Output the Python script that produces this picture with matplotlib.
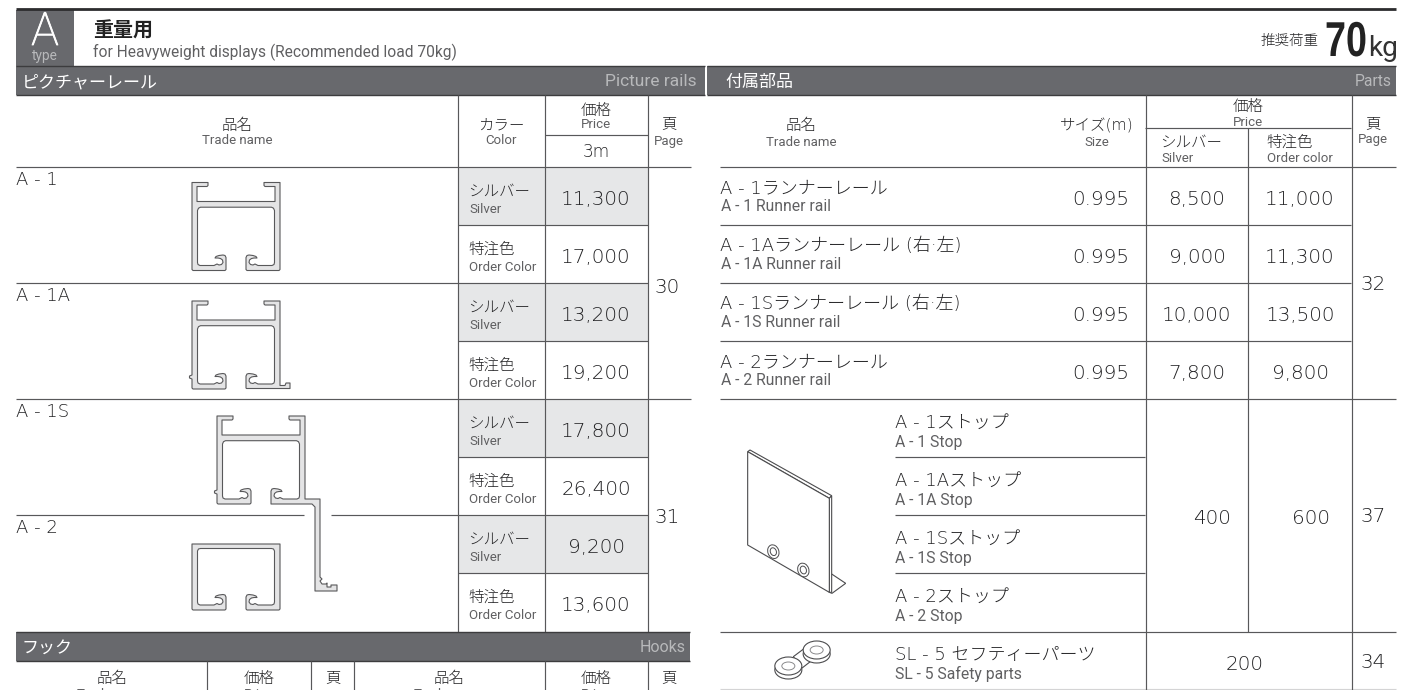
"""
Heavyweight picture rail price table (A type)
"""

# Imports
import matplotlib
matplotlib.use("Agg")
import matplotlib.pyplot as plt
from matplotlib.patches import Polygon, Rectangle, Ellipse
from matplotlib.patheffects import AbstractPathEffect, withStroke
from matplotlib.transforms import Affine2D

# data - picture rails
RAIL_NAMES = ['A - 1', 'A - 1A', 'A - 1S', 'A - 2']
RAIL_SILVER = [11300, 13200, 17800, 9200]
RAIL_ORDER = [17000, 19200, 26400, 13600]
RAIL_PAGES = ['30', '31']
COLOR_JA = ['シルバー', '特注色']
COLOR_EN = ['Silver', 'Order Color']

# data - parts
RUNNER_JA = ['A - 1ランナーレール', 'A - 1Aランナーレール (右·左)',
             'A - 1Sランナーレール (右·左)', 'A - 2ランナーレール']
RUNNER_EN = ['A - 1 Runner rail', 'A - 1A Runner rail', 'A - 1S Runner rail',
             'A - 2 Runner rail']
RUNNER_SIZE = ['0.995', '0.995', '0.995', '0.995']
RUNNER_SILVER = [8500, 9000, 10000, 7800]
RUNNER_ORDER = [11000, 11300, 13500, 9800]
STOP_JA = ['A - 1ストップ', 'A - 1Aストップ', 'A - 1Sストップ', 'A - 2ストップ']
STOP_EN = ['A - 1 Stop', 'A - 1A Stop', 'A - 1S Stop', 'A - 2 Stop']
STOP_SILVER = 400
STOP_ORDER = 600
SAFETY_PRICE = 200

# settings - style
BAR_COLOR = '#68696d'
BAR_EDGE = '#3c3c3e'
LINE_COLOR = '#58585a'
CELL_COLOR = '#e6e7e8'
TEXT_COLOR = '#232325'
SUB_COLOR = '#606062'
FILL_COLOR = '#e4e4e5'
JA_FONT = ['DejaVu Sans', 'Noto Sans CJK JP']
EN_FONT = ['Roboto']
PT = 0.72  # font size from pixels to points

# settings - table grid
ROW_TOP = 167.2
ROW_H = 58


class Squeeze(AbstractPathEffect):
    # narrows a text from its left edge, no condensed bold is installed
    def __init__(self, sx):
        super().__init__()
        self.sx = sx

    def draw_path(self, renderer, gc, tpath, affine, rgbFace=None):
        renderer.draw_path(gc, tpath, Affine2D().scale(self.sx, 1) + affine, rgbFace)


def main():

    # create figure, one data unit is one pixel
    fig = plt.figure(figsize=(14.2, 6.9), dpi=100)
    ax = fig.add_axes([0, 0, 1, 1])
    ax.set_xlim(0, 1420)
    ax.set_ylim(690, 0)
    ax.axis('off')

    plot_title(ax)
    plot_rails_table(ax)
    plot_parts_table(ax)
    plot_hooks_header(ax)

    fig.savefig("out.png", dpi=100)


def hline(ax, y, x0, x1, lw=0.85, color=LINE_COLOR):
    ax.plot([x0, x1], [y, y], color=color, lw=lw, solid_capstyle='butt')


def vline(ax, x, y0, y1, lw=0.85):
    ax.plot([x, x], [y0, y1], color=LINE_COLOR, lw=lw, solid_capstyle='butt')


def ja(ax, x, y, s, size=15.5, ha='center', color=TEXT_COLOR, va='center', **kwargs):
    ax.text(x, y, s, fontsize=size * PT, ha=ha, va=va, color=color,
            family=JA_FONT, weight='light', **kwargs)


def en(ax, x, y, s, size=13.2, ha='center', color=SUB_COLOR, **kwargs):
    ax.text(x, y, s, fontsize=size * PT, ha=ha, va='center', color=color,
            family=EN_FONT, **kwargs)


def num(ax, x, y, s, ha='center'):
    # y is the middle of the digits, so a comma does not shift the text
    ja(ax, x, y + 7.5, s, size=20, ha=ha, va='baseline')


def section_bar(ax, x0, x1, y0, y1, title, x_title, title_en, x_en, size_en=15.6):
    ax.add_patch(Rectangle((x0, y0), x1 - x0, y1 - y0, fc=BAR_COLOR, ec='none'))
    for y in [y0, y1]:
        ax.plot([x0, x1], [y, y], color=BAR_EDGE, lw=1.0, solid_capstyle='butt')
    ax.text(x_title, y1 - 8, title, fontsize=17 * PT, ha='left', va='baseline',
            color='white', family='Noto Sans CJK JP')
    en(ax, x_en, (y0 + y1) / 2 + 1, title_en, size=size_en, ha='right', color='#b8b9bb')


def plot_title(ax):
    ax.plot([16, 1396], [9, 9], color='#2c2c2e', lw=2.0, solid_capstyle='butt')
    ax.add_patch(Rectangle((16, 10), 58, 56, fc=BAR_COLOR, ec='none'))
    ax.text(45, 32, 'A', fontsize=46 * PT, color='white', ha='center', va='center',
            family='Roboto', weight='light',
            path_effects=[withStroke(linewidth=0.6, foreground='white')])
    en(ax, 45, 56, 'type', size=13.6, color='#b8b9bb')

    ax.text(93, 30, '重量用', fontsize=20 * PT, color='#222222', ha='left',
            va='center', family='Noto Sans CJK JP', weight='bold')
    en(ax, 93, 52, 'for Heavyweight displays (Recommended load 70kg)', size=15.5,
       ha='left')

    ja(ax, 1290, 40, '推奨荷重', size=14.5)
    ax.text(1325, 56, '70', fontsize=49 * PT, color='#222222', ha='left',
            va='baseline', family='Liberation Sans', weight='bold',
            path_effects=[Squeeze(0.77)])
    en(ax, 1383, 48, 'kg', size=28, color='#333333')


def plot_rails_table(ax):
    section_bar(ax, 16, 705, 66, 95, 'ピクチャーレール', 22, 'Picture rails', 697, 17.4)

    # header
    ja(ax, 237, 125, '品名')
    en(ax, 237, 141, 'Trade name')
    ja(ax, 501, 125, 'カラー')
    en(ax, 501, 141, 'Color')
    ja(ax, 596, 110, '価格')
    en(ax, 596, 125, 'Price')
    ja(ax, 596, 152, '3m', size=17)
    ja(ax, 669, 124, '頁')
    en(ax, 669, 141, 'Page')

    # body
    for i_rail, name in enumerate(RAIL_NAMES):
        y_rail = ROW_TOP + i_rail * 2 * ROW_H
        ja(ax, 16, y_rail + 12.5, name, size=18, ha='left')
        prices = [RAIL_SILVER[i_rail], RAIL_ORDER[i_rail]]
        for i_row, price in enumerate(prices):
            y = y_rail + i_row * ROW_H
            if i_row == 0:
                ax.add_patch(Rectangle((458, y), 190, ROW_H, fc=CELL_COLOR, ec='none'))
            ja(ax, 468, y + 24, COLOR_JA[i_row], ha='left')
            en(ax, 469, y + 42, COLOR_EN[i_row], ha='left')
            num(ax, 596, y + 30, f"{price:,}")

    for i_page, page in enumerate(RAIL_PAGES):
        num(ax, 667, ROW_TOP + 118 + i_page * 230, page)

    # grid
    hline(ax, ROW_TOP, 16, 691)
    hline(ax, 135, 545, 648)
    for i_row in range(1, 8):
        y = ROW_TOP + i_row * ROW_H
        if i_row == 4:
            hline(ax, y, 16, 691)
        elif i_row == 2:
            hline(ax, y, 16, 648)
        elif i_row == 6:
            hline(ax, y, 16, 304)
            hline(ax, y, 331, 648)
        else:
            hline(ax, y, 458, 648)
    vline(ax, 457.5, 95, 632)
    vline(ax, 545, 95, 632)
    vline(ax, 648, 95, 632)

    # rail sections
    draw_outline(ax, rail_outline(192, 182.5))
    draw_outline(ax, rail_outline(192, 301, feet=True))
    draw_outline(ax, rail_outline(217, 416, arm=True))
    draw_outline(ax, box_outline(192, 544))


def plot_parts_table(ax):
    section_bar(ax, 707, 1396, 66, 95, '付属部品', 725, 'Parts', 1392)

    # header
    ja(ax, 801, 125, '品名')
    en(ax, 801, 142, 'Trade name')
    ja(ax, 1097, 126, 'サイズ(m)')
    en(ax, 1097, 143, 'Size')
    ja(ax, 1248, 106, '価格')
    en(ax, 1248, 122, 'Price')
    ja(ax, 1160, 142, 'シルバー', ha='left')
    en(ax, 1161, 159, 'Silver', ha='left')
    ja(ax, 1266, 142, '特注色', ha='left')
    en(ax, 1267, 159, 'Order color', ha='left')
    ja(ax, 1373, 124, '頁')
    en(ax, 1373, 140, 'Page')

    # runner rails
    for i_row in range(len(RUNNER_JA)):
        y = ROW_TOP + i_row * ROW_H
        ja(ax, 720, y + 21, RUNNER_JA[i_row], size=18, ha='left')
        en(ax, 721, y + 39, RUNNER_EN[i_row], size=15.7, ha='left')
        num(ax, 1129, y + 30, RUNNER_SIZE[i_row], ha='right')
        num(ax, 1197, y + 30, f"{RUNNER_SILVER[i_row]:,}")
        num(ax, 1300, y + 30, f"{RUNNER_ORDER[i_row]:,}")
    num(ax, 1373, 282, '32')

    # stops
    for i_row in range(len(STOP_JA)):
        y = ROW_TOP + (i_row + 4) * ROW_H
        ja(ax, 895, y + 24, STOP_JA[i_row], size=18, ha='left')
        en(ax, 895, y + 43, STOP_EN[i_row], size=15.7, ha='left')
    num(ax, 1212, 516, f"{STOP_SILVER}")
    num(ax, 1311, 516, f"{STOP_ORDER}")
    num(ax, 1373, 514, '37')

    # safety parts
    ja(ax, 895, 655, 'SL - 5 セフティーパーツ', size=18, ha='left')
    en(ax, 895, 674, 'SL - 5 Safety parts', size=15.7, ha='left')
    num(ax, 1245, 663, f"{SAFETY_PRICE}")
    num(ax, 1373, 661, '34')

    # grid
    hline(ax, 128, 1145, 1351)
    hline(ax, ROW_TOP, 720, 1396)
    for i_row in range(1, 4):
        hline(ax, ROW_TOP + i_row * ROW_H, 720, 1351)
    hline(ax, ROW_TOP + 4 * ROW_H, 720, 1396)
    for i_row in range(5, 8):
        hline(ax, ROW_TOP + i_row * ROW_H, 895, 1145)
    hline(ax, 632, 720, 1396)
    hline(ax, 689, 720, 1396, color='#d4d4d5')
    vline(ax, 1145.5, 95, 690)
    vline(ax, 1248, 128, 632)
    vline(ax, 1351.5, 95, 690)

    draw_stop(ax, 720, 430)
    draw_safety_part(ax, 720, 430)


def plot_hooks_header(ax):
    section_bar(ax, 16, 690, 632, 661, 'フック', 22, 'Hooks', 686, 16)
    for x_name, x_price, x_page in [(112, 259, 333), (449, 596, 669)]:
        ja(ax, x_name, 678, '品名')
        en(ax, x_name, 695, 'Trade name')
        ja(ax, x_price, 678, '価格')
        en(ax, x_price, 695, 'Price')
        ja(ax, x_page, 678, '頁')
        en(ax, x_page, 695, 'Page')
    for x in [207, 311, 354, 545, 648]:
        vline(ax, x, 661, 690)


def hook_right(floor, base):
    # right lip of the chamber, from the slot round to the chamber wall
    return [(54, base - 1), (54, floor - 8), (55, floor - 10), (57, floor - 10.5),
            (61, floor - 10), (64, floor - 9), (65, floor - 7.5), (62, floor - 7.5),
            (59.5, floor - 7), (57.5, floor - 5.5), (57, floor - 3), (58.5, floor - 1),
            (61, floor - 0.5), (63, floor - 1.5), (65, floor - 0.5), (66, floor),
            (80, floor), (82, floor - 1), (82.5, floor - 3)]


def hook_left(floor, base):
    # same lip mirrored across the rail, walking on towards the slot
    return [(88 - x, y) for x, y in reversed(hook_right(floor, base))]


def rail_outline(x0, y0, feet=False, arm=False):
    right = hook_right(83, 88)
    left = hook_left(83, 88)
    pts = [(0, 0), (16, 0), (16, 3), (15, 4), (5, 4), (5, 19), (83, 19), (83, 4),
           (73, 4), (72, 3), (72, 0), (88, 0)]
    if arm:
        pts += [(88, 83), (103, 83), (103, 161), (105, 163), (103, 165), (105, 168),
                (109, 168), (110, 167), (110, 171), (114, 171), (114, 169), (120, 169),
                (120, 175), (98, 175), (98, 91), (95, 88), (54, 88)]
    elif feet:
        pts += [(88, 84.5), (93, 84.5), (94, 82), (98, 82), (98, 87.5), (54.5, 87.5)]
    else:
        pts += [(88, 87), (87, 88), (55, 88)]
    pts += right
    pts += [(82.5, 28), (81.5, 25.7), (79.5, 24.7), (8.5, 24.7), (6.5, 25.7), (5.5, 28)]
    pts += left
    pts += [(33, 88), (1, 88), (0, 87)]
    if feet or arm:
        pts += [(0, 78), (-2.5, 77), (-2.5, 75), (0, 74)]
    return [(x0 + x, y0 + y) for x, y in pts]


def box_outline(x0, y0):
    pts = [(0, 0), (88, 0), (88, 65), (87, 66), (55, 66)]
    pts += hook_right(61, 66)
    pts += [(82.5, 7), (81.5, 5), (79.5, 4.5), (8.5, 4.5), (6.5, 5), (5.5, 7)]
    pts += hook_left(61, 66)
    pts += [(33, 66), (1, 66), (0, 65)]
    return [(x0 + x, y0 + y) for x, y in pts]


def draw_outline(ax, pts):
    ax.add_patch(Polygon(pts, closed=True, fc=FILL_COLOR, ec='#58585a', lw=0.8,
                         joinstyle='round', zorder=3))


def draw_stop(ax, x0, y0):
    # drawn in the 3x crop units, then scaled down
    def to_px(pts):
        return [(x0 + x / 3, y0 + y / 3) for x, y in pts]

    for pts in [[(335, 432), (377, 460), (336, 490), (328, 487), (328, 440)],
                [(83, 65), (90, 60), (335, 197), (328, 205)],
                [(328, 205), (335, 197), (335, 487), (328, 487)],
                [(83, 65), (328, 205), (328, 487), (83, 345)]]:
        ax.add_patch(Polygon(to_px(pts), closed=True, fc='white', ec='#4c4c4e', lw=0.8))
    for x, y in [(160, 365), (250, 420)]:
        for w, h in [(11, 14), (6, 8)]:
            ax.add_patch(Ellipse((x0 + x / 3, y0 + y / 3), w, h, angle=-20,
                                 fc='white', ec='#4c4c4e', lw=0.7, zorder=3))


def draw_safety_part(ax, x0, y0):
    link = [(220, 680), (260, 650), (290, 680), (245, 715)]
    ax.add_patch(Polygon([(x0 + x / 3, y0 + y / 3) for x, y in link], closed=True,
                         fc='white', ec='#4c4c4e', lw=0.8, zorder=3))
    for x, y in [(290, 660), (205, 708)]:
        xc, yc = x0 + x / 3, y0 + y / 3
        ax.add_patch(Ellipse((xc, yc + 4), 27, 18, fc='white', ec='#4c4c4e', lw=0.8,
                             zorder=3))
        ax.add_patch(Ellipse((xc, yc), 27, 18, fc='white', ec='#4c4c4e', lw=0.8,
                             zorder=3))
        ax.add_patch(Ellipse((xc, yc), 13, 8, fc='white', ec='#8a8a8c', lw=0.7,
                             zorder=3))


if __name__ == "__main__":
    main()
